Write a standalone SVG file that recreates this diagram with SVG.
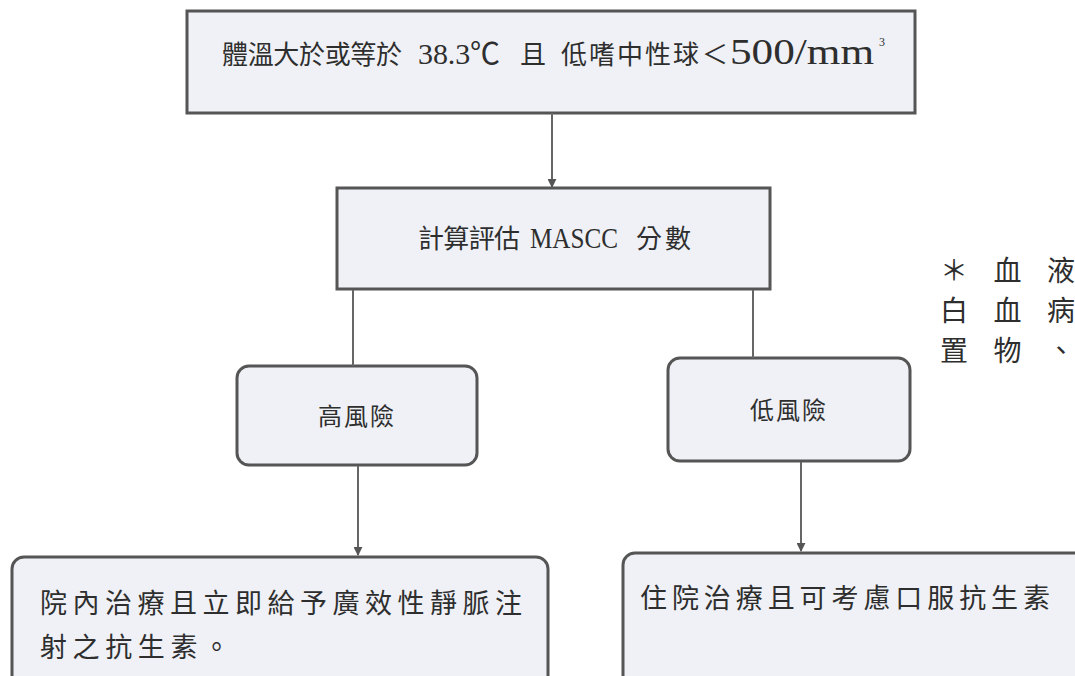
<svg xmlns="http://www.w3.org/2000/svg" width="1075" height="676" viewBox="0 0 1075 676">
<defs>
<marker id="ah" viewBox="0 0 10 10" refX="9" refY="5" markerWidth="4.5" markerHeight="4.5" orient="auto" markerUnits="strokeWidth">
<path d="M0,0 L10,5 L0,10 z" fill="#555"/>
</marker>
<style>
.box{fill:#eff1f6;stroke:#555;stroke-width:3}
.t{font-family:"Liberation Serif","Noto Sans CJK TC",serif;font-size:26px;fill:#2e2e2e}
.l{font-family:"Liberation Serif","Noto Sans CJK TC",serif;font-size:30px;fill:#2e2e2e}
.c{stroke:#666;stroke-width:2;fill:none}
</style>
</defs>
<rect width="1075" height="676" fill="#ffffff"/>
<g id="n-top">
<rect class="box" x="187" y="11" width="728" height="102"/>
<text class="t" y="64"><tspan x="222" textLength="180" lengthAdjust="spacing">體溫大於或等於</tspan><tspan class="l" x="418" textLength="82" lengthAdjust="spacing">38.3℃</tspan><tspan x="520">且</tspan><tspan x="561" textLength="138" lengthAdjust="spacing">低嗜中性球</tspan><tspan x="702">＜</tspan><tspan class="l" x="730" style="font-size:35px" textLength="144" lengthAdjust="spacingAndGlyphs">500/mm</tspan></text>
<text class="t" x="879" y="46" style="font-size:12px">3</text>
</g>
<g id="n-mascc">
<rect class="box" x="337" y="188" width="433" height="101"/>
<text class="t" y="248"><tspan x="418" textLength="102" lengthAdjust="spacing">計算評估</tspan><tspan class="l" x="530" textLength="88" lengthAdjust="spacingAndGlyphs">MASCC</tspan><tspan x="636" textLength="55" lengthAdjust="spacing">分數</tspan></text>
</g>
<g id="n-high">
<rect class="box" x="237" y="366" width="240" height="99" rx="12"/>
<text class="t" x="357" y="425" text-anchor="middle" style="font-size:24px;letter-spacing:2px">高風險</text>
</g>
<g id="n-low">
<rect class="box" x="668" y="358" width="242" height="103" rx="12"/>
<text class="t" x="789" y="419" text-anchor="middle" style="font-size:24px;letter-spacing:2px">低風險</text>
</g>
<g id="n-high-treat">
<rect class="box" x="12" y="557" width="536" height="135" rx="12"/>
<text class="t" x="40" y="613" style="font-size:27px" textLength="482" lengthAdjust="spacing">院內治療且立即給予廣效性靜脈注</text>
<text class="t" x="40" y="657" style="font-size:27px" textLength="190" lengthAdjust="spacing">射之抗生素。</text>
</g>
<g id="n-low-treat">
<rect class="box" x="623" y="553" width="470" height="135" rx="12"/>
<text class="t" x="640" y="608" style="font-size:27px" textLength="410" lengthAdjust="spacing">住院治療且可考慮口服抗生素</text>
</g>
<g id="note">
<text class="t" x="940" y="281" style="font-size:28px" textLength="135" lengthAdjust="spacing">＊血液</text>
<text class="t" x="940" y="321" style="font-size:28px" textLength="135" lengthAdjust="spacing">白血病</text>
<text class="t" x="940" y="361" style="font-size:28px" textLength="135" lengthAdjust="spacing">置物、</text>
</g>
<g id="connectors">
<line class="c" x1="552" y1="113" x2="552" y2="187" marker-end="url(#ah)"/>
<line class="c" x1="353" y1="290" x2="353" y2="366"/>
<line class="c" x1="753" y1="290" x2="753" y2="358"/>
<line class="c" x1="358" y1="466" x2="358" y2="555" marker-end="url(#ah)"/>
<line class="c" x1="801" y1="462" x2="801" y2="551" marker-end="url(#ah)"/>
</g>
</svg>
